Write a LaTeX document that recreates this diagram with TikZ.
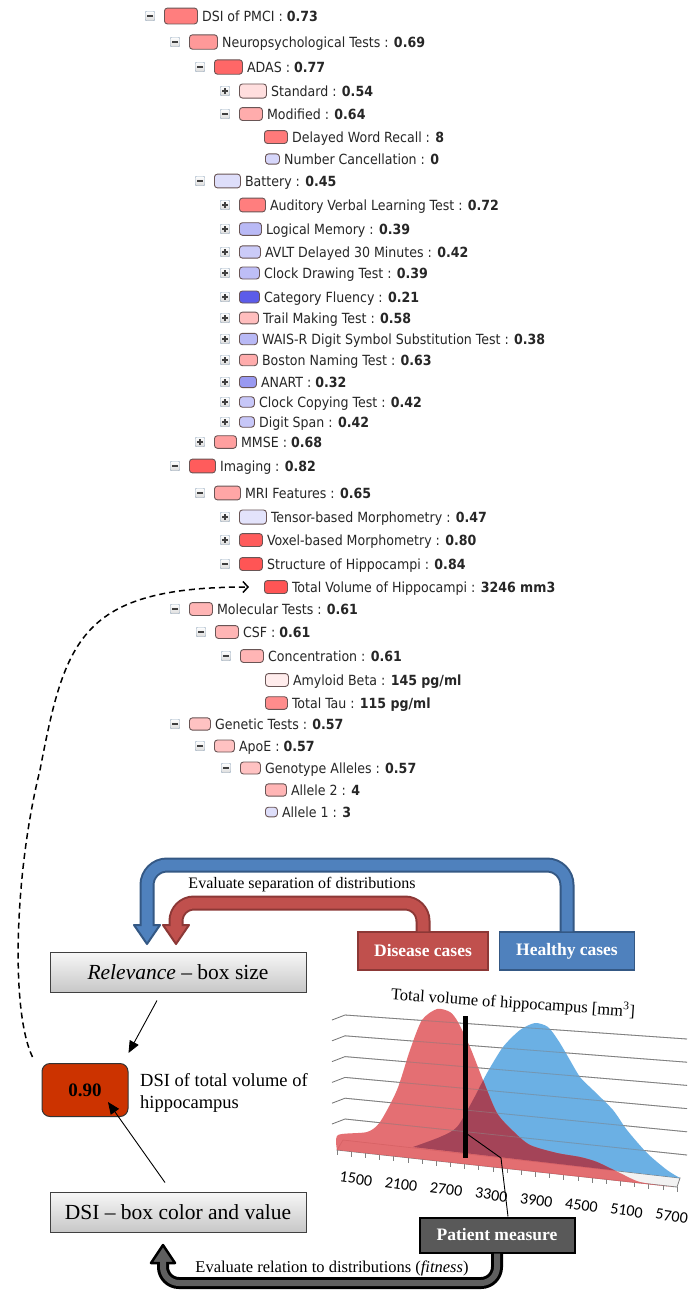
\documentclass[tikz,border=0pt]{standalone}
\usepackage{fontspec}
\setmainfont{Liberation Serif}
\newfontfamily\treefont{DejaVu Sans Condensed}[BoldFont={DejaVu Sans Condensed Bold}]
\newfontfamily\chartfont{Carlito}
\usetikzlibrary{calc,arrows.meta}

\definecolor{dsired}{RGB}{255,70,70}
\definecolor{dsiblue}{RGB}{70,70,230}
\definecolor{boxedge}{RGB}{105,85,85}
\definecolor{tgedge}{RGB}{150,170,190}
\definecolor{healthyblue}{RGB}{79,129,189}
\definecolor{healthyedge}{RGB}{52,88,132}
\definecolor{diseasered}{RGB}{192,80,77}
\definecolor{diseaseedge}{RGB}{140,56,54}
\definecolor{patientgray}{RGB}{89,89,89}
\definecolor{fitgray}{RGB}{95,95,95}
\definecolor{dsiorange}{RGB}{204,51,0}
\definecolor{chartred}{RGB}{226,96,100}
\definecolor{chartblue}{RGB}{92,168,226}
\definecolor{overlapcol}{RGB}{160,66,86}

% one row of the DSI tree: key, y, toggle (+, - or n), box x, box width, colour, label, value
\newcommand{\treerow}[8]{%
  \pgfmathsetmacro{\bxh}{min(16,0.3*#5+6)}%
  \node[dsibox, fill=#6, minimum width=#5pt, minimum height=\bxh pt] (b-#1) at (#4,#2) {};
  \node[rowtext] (r-#1) at ($(b-#1.east)+(4,5)$) {#7 : \textbf{#8}};
  \if#3n\else
    \node[toggle] (t-#1) at (#4-14,#2) {};
    \draw[tgsign] ($(t-#1.center)+(-2.6,0)$) -- ($(t-#1.center)+(2.6,0)$);
    \if#3+\draw[tgsign] ($(t-#1.center)+(0,-2.6)$) -- ($(t-#1.center)+(0,2.6)$);\fi
  \fi
}

% the two distributions of the chart
\newcommand{\redarea}{plot[smooth, tension=0.45] coordinates {(337,1150) (338,1135) (367,1132) (380,1122) (397,1090) (410,1050) (422,1020) (437,1009) (450,1012) (458,1022) (470,1047) (483,1080) (497,1113) (513,1131) (530,1145) (557,1153) (580,1157) (597,1162) (620,1173) (640,1182) (673,1187)} -- cycle}
\newcommand{\bluearea}{plot[smooth, tension=0.45] coordinates {(413,1147) (440,1137) (457,1127) (473,1100) (487,1073) (503,1047) (520,1030) (535,1023) (548,1027) (558,1040) (567,1055) (580,1077) (593,1090) (613,1110) (627,1130) (647,1153) (667,1170) (680,1178)} -- cycle}

\begin{document}
\begin{tikzpicture}[x=1pt, y=-1pt,
  toggle/.style={draw=tgedge, top color=white, bottom color=black!14, rounded corners=1pt, minimum size=9.5pt, inner sep=0pt},
  tgsign/.style={line width=1.1pt, black!75},
  dsibox/.style={draw=boxedge, line width=0.9pt, rounded corners=3pt, inner sep=0pt, anchor=west},
  rowtext/.style={anchor=base west, inner sep=0pt, text=black!85, font=\treefont\fontsize{14}{15}\selectfont},
  graybox/.style={draw=black!75, line width=1pt, top color=black!3, bottom color=black!22, minimum width=256pt, minimum height=40pt, font=\fontsize{21.5}{24}\selectfont},
  casebox/.style={text=white, font=\bfseries\fontsize{17.5}{20}\selectfont, minimum height=38pt, line width=1.5pt},
  thinarrow/.style={line width=0.9pt, -{Triangle[length=12pt,width=10pt]}},
  gridline/.style={draw=black!55, line width=0.8pt},
]
\useasboundingbox (0,0) rectangle (693,1293);
\fill[white] (0,0) rectangle (693,1293);

% tree of DSI values
\treerow{dsi}{16}{-}{164}{33}{dsired!70}{DSI of PMCI}{0.73}
\treerow{neuro}{42}{-}{189}{28}{dsired!55}{Neuropsychological Tests}{0.69}
\treerow{adas}{67}{-}{214}{28}{dsired!82}{ADAS}{0.77}
\treerow{std}{91}{+}{239}{27}{dsired!18}{Standard}{0.54}
\treerow{mod}{114}{-}{239}{23}{dsired!45}{Modified}{0.64}
\treerow{dwr}{137}{n}{264}{23}{dsired!72}{Delayed Word Recall}{8}
\treerow{nc}{159}{n}{265}{14}{dsiblue!22}{Number Cancellation}{0}
\treerow{bat}{181}{-}{214}{26}{dsiblue!18}{Battery}{0.45}
\treerow{avlt}{205}{+}{239}{26}{dsired!70}{Auditory Verbal Learning Test}{0.72}
\treerow{lm}{229}{+}{239}{22}{dsiblue!38}{Logical Memory}{0.39}
\treerow{avltd}{252}{+}{239}{21}{dsiblue!28}{AVLT Delayed 30 Minutes}{0.42}
\treerow{cdt}{273}{+}{239}{20}{dsiblue!35}{Clock Drawing Test}{0.39}
\treerow{cf}{297}{+}{239}{20}{dsiblue!88}{Category Fluency}{0.21}
\treerow{tmt}{318}{+}{239}{19}{dsired!35}{Trail Making Test}{0.58}
\treerow{wais}{339}{+}{239}{18}{dsiblue!38}{WAIS-R Digit Symbol Substitution Test}{0.38}
\treerow{bnt}{360}{+}{239}{18}{dsired!45}{Boston Naming Test}{0.63}
\treerow{anart}{382}{+}{239}{17}{dsiblue!55}{ANART}{0.32}
\treerow{cct}{402}{+}{239}{15}{dsiblue!30}{Clock Copying Test}{0.42}
\treerow{ds}{422}{+}{239}{15}{dsiblue!30}{Digit Span}{0.42}
\treerow{mmse}{442}{+}{214}{22}{dsired!52}{MMSE}{0.68}
\treerow{img}{466}{-}{189}{26}{dsired!88}{Imaging}{0.82}
\treerow{mri}{493}{-}{214}{26}{dsired!48}{MRI Features}{0.65}
\treerow{tbm}{517}{+}{239}{27}{dsiblue!15}{Tensor-based Morphometry}{0.47}
\treerow{vbm}{540}{+}{239}{23}{dsired!88}{Voxel-based Morphometry}{0.80}
\treerow{soh}{564}{-}{239}{23}{dsired!92}{Structure of Hippocampi}{0.84}
\treerow{tv}{587}{n}{264}{23}{dsired!92}{Total Volume of Hippocampi}{3246 mm3}
\treerow{mol}{609}{-}{189}{23}{dsired!40}{Molecular Tests}{0.61}
\treerow{csf}{632}{-}{215}{23}{dsired!40}{CSF}{0.61}
\treerow{conc}{656}{-}{240}{23}{dsired!40}{Concentration}{0.61}
\treerow{ab}{680}{n}{265}{23}{dsired!10}{Amyloid Beta}{145 pg/ml}
\treerow{tau}{703}{n}{265}{22}{dsired!62}{Total Tau}{115 pg/ml}
\treerow{gen}{724}{-}{189}{21}{dsired!33}{Genetic Tests}{0.57}
\treerow{apoe}{746}{-}{214}{20}{dsired!33}{ApoE}{0.57}
\treerow{ga}{768}{-}{240}{20}{dsired!33}{Genotype Alleles}{0.57}
\treerow{a2}{790}{n}{265}{21}{dsired!40}{Allele 2}{4}
\treerow{a1}{812}{n}{265}{12}{dsiblue!18}{Allele 1}{3}

% boxes of the lower part
\node[casebox, fill=diseasered, draw=diseaseedge, minimum width=130pt] (dc) at (423,951) {Disease cases};
\node[casebox, fill=healthyblue, draw=healthyedge, minimum width=135pt] (hc) at (567,951) {Healthy cases};
\node[graybox] (rel) at (178,972) {\textit{Relevance} -- box size};
\node[graybox] (dsi) at (178,1212) {DSI -- box color and value};
\node[draw=black!80, line width=1pt, fill=dsiorange, rounded corners=8pt, minimum width=86pt, minimum height=53pt, font=\bfseries\fontsize{19}{22}\selectfont] (val) at (85,1090) {0.90};
\node[anchor=west, align=left, inner sep=0pt, font=\fontsize{18.5}{22}\selectfont] (valnote) at (140,1093) {DSI of total volume of\\hippocampus};
\node[casebox, fill=patientgray, draw=black, line width=2pt, minimum width=155pt, minimum height=35pt] (pat) at (497,1235) {Patient measure};

% blue arrow from healthy cases
\coordinate (bbase) at (147,925);
\coordinate (btip) at (147,944);
\draw[line width=15pt, healthyedge, rounded corners=20pt] (hc.north) -- (567,865) -- (147,865) -- (bbase);
\filldraw[fill=healthyblue, draw=healthyedge, line width=2pt, line join=round] ($(bbase)+(-13,0)$) -- ($(bbase)+(13,0)$) -- (btip) -- cycle;
\draw[line width=11pt, healthyblue, rounded corners=20pt] (hc.north) -- (567,865) -- (147,865) -- ($(bbase)+(0,3)$);

% red arrow from disease cases
\coordinate (rbase) at (176,925);
\coordinate (rtip) at (176,944);
\draw[line width=15pt, diseaseedge, rounded corners=18pt] (dc.north) -- (423,903) -- (176,903) -- (rbase);
\filldraw[fill=diseasered, draw=diseaseedge, line width=2pt, line join=round] ($(rbase)+(-13,0)$) -- ($(rbase)+(13,0)$) -- (rtip) -- cycle;
\draw[line width=11pt, diseasered, rounded corners=18pt] (dc.north) -- (423,903) -- (176,903) -- ($(rbase)+(0,3)$);

\node[font=\fontsize{16}{18}\selectfont] (sepnote) at (302,885) {Evaluate separation of distributions};

% dark arrow from the patient measure
\coordinate (gbase) at (163,1263);
\coordinate (gtip) at (163,1245);
\draw[line width=12pt, black, rounded corners=16pt] (pat.south) -- (497,1283) -- (163,1283) -- (gbase);
\filldraw[fill=fitgray, draw=black, line width=2.5pt, line join=round] ($(gbase)+(-12,0)$) -- ($(gbase)+(12,0)$) -- (gtip) -- cycle;
\draw[line width=6pt, fitgray, rounded corners=16pt] (pat.south) -- (497,1283) -- (163,1283) -- ($(gbase)+(0,-3)$);

\node[font=\fontsize{16.5}{18}\selectfont] (fitnote) at (332,1268) {Evaluate relation to distributions (\textit{fitness})};

% thin arrows to the DSI box
\draw[thinarrow] ($(rel.south)+(-21,8)$) -- ($(val.north east)+(0,-10)$);
\draw[thinarrow] ($(dsi.north)+(-13,-9)$) -- ($(val.center)+(23,12)$);

% dashed link back to the tree
\coordinate (dstart) at ($(val.north west)+(-9,-6)$);
\coordinate (dend) at ($(b-tv.west)+(-15,0)$);
\draw[line width=1.5pt, dash pattern=on 6pt off 4pt, -{Straight Barb[length=5pt,width=11pt]}]
    (dstart) .. controls (10,1010) and (15,870) .. (40,770) .. controls (65,640) and (80,587) .. (dend);

% chart
\foreach \i in {0,...,5}
  \draw[gridline] (332,{1020+20.8*\i}) -- (345,{1015+20.8*\i}) -- (687,{1039+23.2*\i});
\filldraw[fill=black!5, draw=black!50, line width=0.8pt] (343,1140) -- (680,1178) -- (677,1187) -- (337,1150) -- cycle;
\foreach \k in {0,...,24}
  \draw[black!50, line width=0.7pt] ({337+14.17*\k},{1150+1.54*\k}) -- ++(0,5);
\fill[chartblue, opacity=0.9] \bluearea;
\fill[chartred, opacity=0.9] \redarea;
\begin{scope}
  \clip \bluearea;
  \fill[overlapcol, opacity=0.92] \redarea;
\end{scope}
\foreach \i in {0,...,5}
  \draw[black!45, opacity=0.5, line width=0.8pt] (345,{1015+20.8*\i}) -- (687,{1039+23.2*\i});
\foreach \lab [count=\k from 0] in {1500,2100,...,5700}
  \node[font=\chartfont\fontsize{16}{18}\selectfont, rotate=-8] (tk\k) at ({356+45.1*\k},{1179+5.3*\k}) {\lab};
\node[font=\fontsize{16.5}{18}\selectfont, rotate=-4] (ctitle) at (513,1003) {Total volume of hippocampus [mm\textsuperscript{3}]};

% patient measure marker
\coordinate (bartop) at (465,1016);
\coordinate (barbot) at (465,1158);
\draw[line width=5pt] (bartop) -- (barbot);
\draw[line width=0.9pt] ($(bartop)!0.82!(barbot)$) -- (501,1158) -- ($(pat.north)+(11,0)$);
\end{tikzpicture}
\end{document}
